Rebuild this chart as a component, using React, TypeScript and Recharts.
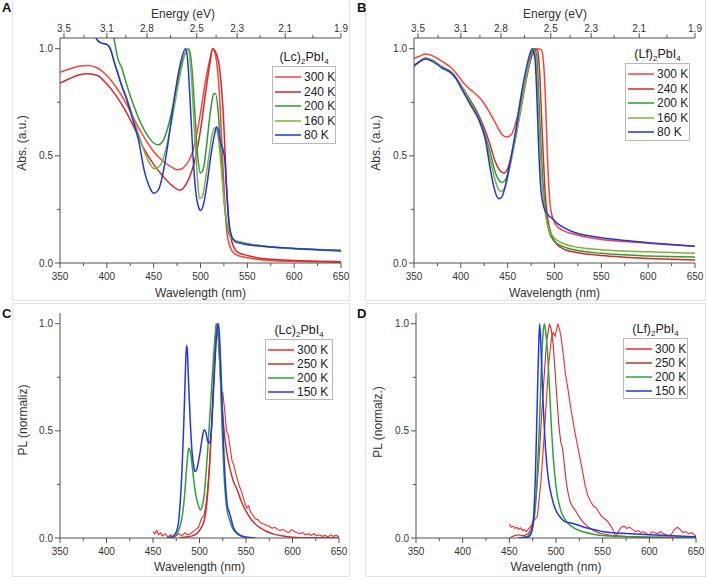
import React from 'react';
import { LineChart, Line, XAxis, YAxis, Legend } from 'recharts';

const FONT = '"Liberation Sans", Arial, Helvetica, sans-serif';
const AXIS = '#505050';
const TEXT = '#333';

// axis ticks
const wlTicks = [350, 375, 400, 425, 450, 475, 500, 525, 550, 575, 600, 625, 650];
const wlLabels = [350, 400, 450, 500, 550, 600, 650];
const yTicks = [0, 0.25, 0.5, 0.75, 1.0];
const yLabels = [0, 0.5, 1.0];
const energyLabels = [3.5, 3.1, 2.8, 2.5, 2.3, 2.1, 1.9];
const energyMinor = [3.3, 2.95, 2.65, 2.4, 2.2, 2.0];

// A: (Lc)2PbI4 absorption
const absLcWl300 = [350, 360, 370, 380, 390, 400, 410, 420, 430, 440, 450, 460, 470, 475, 480, 485, 490, 495, 500, 505, 510, 513, 516, 520, 524, 528, 532, 536, 540, 550, 560, 575, 600, 625, 650];
const absLc300 = [0.89, 0.905, 0.918, 0.922, 0.91, 0.875, 0.82, 0.75, 0.665, 0.585, 0.52, 0.475, 0.445, 0.435, 0.44, 0.46, 0.5, 0.58, 0.7, 0.84, 0.95, 1.0, 0.97, 0.8, 0.45, 0.15, 0.07, 0.045, 0.035, 0.025, 0.018, 0.012, 0.008, 0.006, 0.004];
const absLcWl240 = [350, 360, 370, 380, 390, 400, 410, 420, 430, 440, 450, 460, 470, 478, 485, 490, 495, 500, 505, 510, 513, 516, 520, 524, 528, 532, 536, 540, 550, 560, 575, 600, 625, 650];
const absLc240 = [0.84, 0.86, 0.877, 0.883, 0.875, 0.835, 0.78, 0.71, 0.625, 0.53, 0.46, 0.405, 0.36, 0.34, 0.37, 0.42, 0.5, 0.62, 0.78, 0.93, 1.0, 0.985, 0.92, 0.72, 0.35, 0.13, 0.07, 0.05, 0.035, 0.025, 0.018, 0.012, 0.008, 0.006];
const absLcWl200 = [405, 408, 412, 416, 420, 425, 430, 435, 440, 445, 450, 455, 460, 465, 470, 475, 480, 484, 487, 489, 491, 494, 497, 500, 503, 506, 509, 512, 514, 516, 519, 522, 525, 528, 531, 535, 540, 550, 575, 600, 625, 650];
const absLc200 = [1.12, 1.04, 0.95, 0.91, 0.85, 0.78, 0.72, 0.665, 0.62, 0.585, 0.56, 0.552, 0.57, 0.63, 0.72, 0.83, 0.93, 0.985, 1.0, 0.98, 0.9, 0.7, 0.5, 0.42, 0.44, 0.53, 0.65, 0.75, 0.79, 0.79, 0.7, 0.5, 0.3, 0.18, 0.13, 0.11, 0.1, 0.09, 0.075, 0.068, 0.063, 0.06];
const absLcWl160 = [385, 389, 394, 400, 404, 408, 412, 416, 421, 428, 434, 440, 445, 451, 457, 463, 470, 477, 483, 486, 488, 491, 494, 497, 499, 502, 505, 509, 512, 515, 518, 521, 524, 527, 530, 535, 540, 550, 575, 600, 625, 650];
const absLc160 = [1.09, 1.045, 1.027, 1.02, 1.0, 0.94, 0.885, 0.83, 0.775, 0.68, 0.6, 0.52, 0.47, 0.44, 0.455, 0.53, 0.68, 0.85, 0.97, 1.0, 0.98, 0.82, 0.58, 0.38, 0.3, 0.31, 0.38, 0.5, 0.59, 0.63, 0.61, 0.5, 0.35, 0.22, 0.15, 0.11, 0.1, 0.09, 0.075, 0.067, 0.062, 0.058];
const absLcWl80 = [385, 389, 394, 400, 404, 408, 412, 416, 421, 428, 434, 440, 445, 450, 455, 460, 466, 472, 478, 484, 486, 489, 492, 495, 498, 500, 503, 507, 511, 515, 517, 519, 521, 524, 526, 528, 530, 533, 537, 545, 560, 600, 650];
const absLc80 = [1.09, 1.045, 1.027, 1.02, 0.995, 0.935, 0.88, 0.825, 0.765, 0.665, 0.57, 0.43, 0.36, 0.326, 0.34, 0.42, 0.58, 0.77, 0.92, 1.0, 0.96, 0.75, 0.5, 0.33, 0.26, 0.245, 0.27, 0.37, 0.5, 0.6, 0.635, 0.62, 0.57, 0.53, 0.48, 0.33, 0.2, 0.13, 0.1, 0.09, 0.08, 0.068, 0.056];

// B: (Lf)2PbI4 absorption
const absLfWl300 = [350, 356, 362, 368, 375, 382, 390, 397, 403, 410, 417, 424, 431, 438, 444, 449, 454, 459, 464, 469, 474, 478, 482, 486, 488, 490, 492, 494, 496, 499, 503, 510, 520, 535, 550, 575, 600, 625, 650];
const absLf300 = [0.955, 0.965, 0.975, 0.97, 0.955, 0.935, 0.91, 0.875, 0.84, 0.81, 0.785, 0.75, 0.7, 0.645, 0.6, 0.588, 0.6, 0.66, 0.75, 0.85, 0.94, 0.985, 1.0, 0.995, 0.95, 0.8, 0.55, 0.35, 0.25, 0.2, 0.17, 0.15, 0.135, 0.12, 0.11, 0.1, 0.092, 0.085, 0.078];
const absLfWl240 = [350, 356, 362, 370, 380, 390, 400, 410, 418, 425, 431, 437, 442, 446, 450, 455, 460, 465, 470, 475, 479, 482, 484, 486, 488, 490, 493, 497, 502, 510, 525, 550, 575, 600, 625, 650];
const absLf240 = [0.92, 0.94, 0.955, 0.945, 0.915, 0.89, 0.83, 0.76, 0.7, 0.63, 0.555, 0.47, 0.43, 0.42, 0.44, 0.52, 0.62, 0.74, 0.86, 0.96, 1.0, 0.99, 0.9, 0.7, 0.5, 0.33, 0.2, 0.13, 0.09, 0.065, 0.048, 0.035, 0.027, 0.021, 0.017, 0.014];
const absLfWl200 = [350, 356, 362, 370, 380, 390, 400, 410, 418, 425, 431, 437, 441, 444, 448, 453, 458, 464, 470, 475, 478, 481, 483, 485, 487, 490, 494, 500, 510, 525, 550, 600, 650];
const absLf200 = [0.92, 0.94, 0.955, 0.945, 0.915, 0.89, 0.83, 0.755, 0.69, 0.61, 0.52, 0.42, 0.385, 0.376, 0.39, 0.47, 0.58, 0.73, 0.87, 0.97, 1.0, 0.97, 0.8, 0.6, 0.42, 0.26, 0.15, 0.1, 0.075, 0.058, 0.045, 0.033, 0.028];
const absLfWl160 = [350, 356, 362, 370, 380, 390, 400, 410, 418, 425, 431, 437, 440, 443, 447, 452, 458, 464, 470, 474, 477, 480, 482, 484, 486, 489, 493, 500, 510, 525, 550, 600, 650];
const absLf160 = [0.92, 0.94, 0.955, 0.945, 0.915, 0.89, 0.83, 0.75, 0.685, 0.6, 0.49, 0.38, 0.345, 0.334, 0.35, 0.44, 0.57, 0.72, 0.87, 0.96, 1.0, 0.96, 0.8, 0.6, 0.42, 0.27, 0.17, 0.115, 0.09, 0.073, 0.062, 0.052, 0.046];
const absLfWl80 = [350, 356, 362, 370, 380, 390, 395, 400, 410, 420, 426, 431, 435, 438, 441, 444, 448, 453, 459, 465, 470, 474, 476, 479, 481, 483, 485, 488, 492, 497, 503, 510, 520, 535, 550, 575, 600, 625, 650];
const absLf80 = [0.92, 0.94, 0.952, 0.94, 0.91, 0.885, 0.86, 0.82, 0.74, 0.66, 0.58, 0.45, 0.36, 0.315, 0.3, 0.31, 0.37, 0.48, 0.63, 0.8, 0.91, 0.98, 1.0, 0.96, 0.8, 0.55, 0.37, 0.27, 0.23, 0.21, 0.185, 0.165, 0.145, 0.128, 0.118, 0.105, 0.095, 0.086, 0.078];

// C: (Lc)2PbI4 PL
const plLcWl300 = [450, 452, 454, 456, 458, 460, 463, 466, 469, 472, 475, 478, 481, 484, 487, 490, 493, 496, 499, 502, 505, 507, 509, 511, 513, 515, 517, 518, 520, 522, 523.5, 525, 527, 529, 531, 533, 535, 537, 539, 541, 543, 545, 547, 549, 551, 553, 555, 557, 560, 563, 566, 569, 572, 575, 578, 581, 584, 587, 590, 593, 596, 599, 602, 605, 608, 611, 614, 617, 620, 623, 626, 629, 632, 635, 638, 641, 644, 647, 650];
const plLc300 = [0.03, 0.02, 0.035, 0.015, 0.025, 0.01, 0.02, 0.005, 0.015, 0.0, 0.01, 0.02, 0.01, 0.025, 0.015, 0.02, 0.03, 0.04, 0.05, 0.09, 0.11, 0.16, 0.24, 0.36, 0.52, 0.7, 0.9, 1.0, 0.96, 0.85, 0.66, 0.68, 0.6, 0.5, 0.48, 0.42, 0.36, 0.34, 0.3, 0.27, 0.24, 0.22, 0.19, 0.16, 0.14, 0.15, 0.12, 0.11, 0.09, 0.085, 0.07, 0.065, 0.06, 0.055, 0.045, 0.05, 0.04, 0.035, 0.04, 0.03, 0.025, 0.04, 0.03, 0.025, 0.02, 0.025, 0.015, 0.02, 0.012, 0.02, 0.01, 0.015, 0.008, 0.012, 0.005, 0.015, 0.008, 0.012, 0.006];
const plLcWl250 = [478, 485, 492, 498, 502, 505, 507, 509, 511, 513, 515, 517, 518, 520, 522, 524, 526, 528, 530, 533, 536, 540, 545, 550, 555, 560, 570, 580, 590, 600, 620, 650];
const plLc250 = [0, 0.005, 0.01, 0.025, 0.05, 0.08, 0.13, 0.22, 0.35, 0.52, 0.72, 0.92, 1.0, 0.95, 0.8, 0.63, 0.52, 0.44, 0.38, 0.32, 0.27, 0.23, 0.17, 0.125, 0.09, 0.065, 0.035, 0.018, 0.009, 0.004, 0.001, 0];
const plLcWl200 = [465, 472, 477, 481, 484, 486, 488, 489, 491, 493, 495, 497, 499, 501, 503, 505, 507, 509, 511, 513, 515, 517, 519, 520, 522, 524, 526, 528, 530, 532, 535, 538, 542, 548, 560];
const plLc200 = [0, 0.005, 0.03, 0.09, 0.2, 0.32, 0.41, 0.42, 0.38, 0.3, 0.23, 0.18, 0.15, 0.13, 0.15, 0.2, 0.3, 0.42, 0.56, 0.7, 0.84, 0.95, 1.0, 0.97, 0.8, 0.55, 0.33, 0.19, 0.12, 0.09, 0.05, 0.03, 0.015, 0.005, 0];
const plLcWl150 = [465, 470, 474, 477, 479, 481, 483, 485, 486, 487, 488, 490, 492, 494, 495, 497, 499, 501, 503, 505, 507, 509, 511, 513, 515, 517, 519, 520.5, 522, 524, 526, 528, 530, 532, 534, 536, 539, 543, 548, 560];
const plLc150 = [0, 0.005, 0.02, 0.06, 0.15, 0.3, 0.52, 0.8, 0.9, 0.87, 0.75, 0.55, 0.4, 0.33, 0.31, 0.32, 0.36, 0.41, 0.47, 0.505, 0.49, 0.45, 0.443, 0.52, 0.68, 0.85, 0.97, 1.0, 0.9, 0.68, 0.42, 0.25, 0.15, 0.12, 0.09, 0.055, 0.03, 0.015, 0.006, 0];

// D: (Lf)2PbI4 PL
const plLfWl300 = [450, 452, 454, 456, 458, 460, 462, 464, 466, 468, 470, 472, 474, 476, 480, 484, 488, 492, 495, 497, 499, 502, 504, 506, 508, 510, 513, 516, 520, 524, 528, 531, 534, 537, 540, 543, 546, 549, 552, 555, 558, 561, 564, 567, 570, 573, 576, 579, 582, 585, 588, 591, 594, 597, 600, 603, 606, 609, 612, 615, 618, 621, 624, 627, 630, 633, 636, 639, 642, 645, 648, 650];
const plLf300 = [0.065, 0.05, 0.055, 0.045, 0.05, 0.04, 0.048, 0.035, 0.04, 0.03, 0.04, 0.05, 0.06, 0.08, 0.1, 0.27, 0.52, 0.8, 0.93, 0.96, 0.94, 1.0, 0.97, 0.92, 0.85, 0.77, 0.69, 0.6, 0.5, 0.41, 0.32, 0.25, 0.2, 0.17, 0.15, 0.14, 0.12, 0.1, 0.09, 0.08, 0.06, 0.04, 0.005, 0.03, 0.05, 0.055, 0.045, 0.05, 0.04, 0.03, 0.035, 0.025, 0.03, 0.02, 0.015, 0.03, 0.025, 0.02, 0.03, 0.02, 0.015, 0.01, 0.02, 0.04, 0.05, 0.04, 0.025, 0.03, 0.02, 0.025, 0.015, 0.01];
const plLfWl250 = [450, 455, 460, 465, 470, 473, 476, 479, 482, 485, 488, 490, 493, 495, 497, 499, 501, 503, 505, 507, 509, 511, 513, 515, 518, 522, 526, 530, 535, 540, 545, 550, 560, 575, 600, 650];
const plLf250 = [0, 0.01, 0.015, 0.01, 0.02, 0.04, 0.09, 0.2, 0.38, 0.6, 0.8, 0.92, 1.0, 0.97, 0.9, 0.78, 0.65, 0.53, 0.45, 0.42, 0.34, 0.26, 0.21, 0.17, 0.145, 0.12, 0.09, 0.07, 0.05, 0.035, 0.025, 0.02, 0.012, 0.008, 0.005, 0.003];
const plLfWl200 = [460, 468, 472, 475, 478, 480, 482, 484, 486, 487.5, 489, 491, 493, 495, 497, 500, 505, 510, 515, 520, 525, 530, 540, 550, 575, 600, 650];
const plLf200 = [0, 0.005, 0.02, 0.05, 0.15, 0.3, 0.5, 0.75, 0.95, 1.0, 0.96, 0.86, 0.7, 0.52, 0.38, 0.24, 0.13, 0.085, 0.06, 0.045, 0.035, 0.028, 0.018, 0.012, 0.006, 0.003, 0.001];
const plLfWl150 = [460, 468, 472, 474, 476, 478, 480, 481.5, 482.5, 484, 486, 488, 490, 492, 495, 498, 501, 504, 507, 510, 513, 516, 520, 525, 530, 535, 540, 545, 550, 560, 570, 580, 600, 625, 650];
const plLf150 = [0, 0.003, 0.01, 0.03, 0.1, 0.3, 0.65, 0.9, 1.0, 0.88, 0.65, 0.47, 0.35, 0.27, 0.2, 0.15, 0.12, 0.1, 0.085, 0.075, 0.072, 0.07, 0.065, 0.058, 0.05, 0.045, 0.04, 0.035, 0.03, 0.025, 0.022, 0.02, 0.015, 0.01, 0.006];

const zip = (wl: number[], v: number[]) => wl.map((w, i) => ({ wl: w, v: v[i] }));
const toNm = (e: number) => Math.min(650, 1240 / e);
const energyTicks = [...energyLabels, ...energyMinor].map(toNm).sort((a, b) => a - b);

type Series = { name: string; color: string; data: { wl: number; v: number }[]; noisy?: boolean };

const absLcSeries: Series[] = [
  { name: '300 K', color: '#f2453e', data: zip(absLcWl300, absLc300) },
  { name: '240 K', color: '#d8262a', data: zip(absLcWl240, absLc240) },
  { name: '200 K', color: '#2f9a35', data: zip(absLcWl200, absLc200) },
  { name: '160 K', color: '#7fb23a', data: zip(absLcWl160, absLc160) },
  { name: '80 K', color: '#2233dd', data: zip(absLcWl80, absLc80) },
];
const absLfSeries: Series[] = [
  { name: '300 K', color: '#f2453e', data: zip(absLfWl300, absLf300) },
  { name: '240 K', color: '#d8262a', data: zip(absLfWl240, absLf240) },
  { name: '200 K', color: '#2f9a35', data: zip(absLfWl200, absLf200) },
  { name: '160 K', color: '#7fb23a', data: zip(absLfWl160, absLf160) },
  { name: '80 K', color: '#2233dd', data: zip(absLfWl80, absLf80) },
];
const plLcSeries: Series[] = [
  { name: '300 K', color: '#ef2b2b', data: zip(plLcWl300, plLc300), noisy: true },
  { name: '250 K', color: '#c8322e', data: zip(plLcWl250, plLc250) },
  { name: '200 K', color: '#2fa03a', data: zip(plLcWl200, plLc200) },
  { name: '150 K', color: '#2535e6', data: zip(plLcWl150, plLc150) },
];
const plLfSeries: Series[] = [
  { name: '300 K', color: '#ef2b2b', data: zip(plLfWl300, plLf300), noisy: true },
  { name: '250 K', color: '#c0302c', data: zip(plLfWl250, plLf250), noisy: true },
  { name: '200 K', color: '#2fa03a', data: zip(plLfWl200, plLf200) },
  { name: '150 K', color: '#2535e6', data: zip(plLfWl150, plLf150) },
];

const BottomTick = (p: any) => {
  const { x, y, payload } = p;
  const major = wlLabels.includes(payload.value);
  return (
    <g>
      <line x1={x} x2={x} y1={y} y2={y + (major ? 5 : 3)} stroke={AXIS} />
      {major && (
        <text x={x} y={y + 17} textAnchor="middle" fontSize={10} fill={TEXT} fontFamily={FONT}>
          {payload.value}
        </text>
      )}
    </g>
  );
};

const TopTick = (p: any) => {
  const { x, y, payload } = p;
  const label = energyLabels.find((e) => Math.abs(toNm(e) - payload.value) < 0.01);
  return (
    <g>
      <line x1={x} x2={x} y1={y} y2={y - (label ? 5 : 3)} stroke={AXIS} />
      {label !== undefined && (
        <text x={x} y={y - 6} textAnchor="middle" fontSize={10} fill={TEXT} fontFamily={FONT}>
          {label.toFixed(1)}
        </text>
      )}
    </g>
  );
};

const LeftTick = (p: any) => {
  const { x, y, payload } = p;
  const major = yLabels.includes(payload.value);
  return (
    <g>
      <line x1={x} x2={x - (major ? 5 : 3)} y1={y} y2={y} stroke={AXIS} />
      {major && (
        <text x={x - 7} y={y + 3.5} textAnchor="end" fontSize={10} fill={TEXT} fontFamily={FONT}>
          {payload.value.toFixed(1)}
        </text>
      )}
    </g>
  );
};

type PanelCfg = {
  letter: string; left: number; top: number; height: number;
  plotLeft: number; plotRight: number; plotTop: number; plotBottom: number;
  energy: boolean; energyX: number; xLabelY: number;
  yLabel: string; yLabelX: number; yLabelY: number;
  prefix: string; series: Series[];
  legend: { left: number; top: number; width: number; rowH: number };
};

const panels: PanelCfg[] = [
  { letter: 'A', left: 0, top: 0, height: 301, plotLeft: 60, plotRight: 341, plotTop: 38, plotBottom: 263, energy: true, energyX: 183, xLabelY: 297, yLabel: 'Abs. (a.u.)', yLabelX: 26, yLabelY: 143, prefix: '(Lc)', series: absLcSeries, legend: { left: 272, top: 66, width: 64, rowH: 14.5 } },
  { letter: 'B', left: 354, top: 0, height: 301, plotLeft: 60, plotRight: 341, plotTop: 38, plotBottom: 263, energy: true, energyX: 201, xLabelY: 297, yLabel: 'Abs. (a.u.)', yLabelX: 26, yLabelY: 143, prefix: '(Lf)', series: absLfSeries, legend: { left: 271, top: 63, width: 65, rowH: 14.5 } },
  { letter: 'C', left: 0, top: 290, height: 291, plotLeft: 60, plotRight: 339, plotTop: 23, plotBottom: 248, energy: false, energyX: 0, xLabelY: 281, yLabel: 'PL (normaliz)', yLabelX: 27, yLabelY: 130, prefix: '(Lc)', series: plLcSeries, legend: { left: 265, top: 49, width: 68, rowH: 14 } },
  { letter: 'D', left: 354, top: 290, height: 291, plotLeft: 62, plotRight: 342, plotTop: 23, plotBottom: 248, energy: false, energyX: 0, xLabelY: 281, yLabel: 'PL (normalz.)', yLabelX: 28, yLabelY: 132, prefix: '(Lf)', series: plLfSeries, legend: { left: 269, top: 48, width: 65, rowH: 14 } },
];

const Sub = ({ children }: { children: React.ReactNode }) => (
  <span style={{ fontSize: 8, position: 'relative', top: 3 }}>{children}</span>
);

const Panel = ({ cfg }: { cfg: PanelCfg }) => {
  const midX = (cfg.plotLeft + cfg.plotRight) / 2;
  const lg = cfg.legend;
  const order = cfg.series.map((s) => s.name);
  const renderLegend = (props: any) => {
    const items = [...(props.payload || [])].sort((a: any, b: any) => order.indexOf(a.value) - order.indexOf(b.value));
    return (
      <div style={{ position: 'relative', fontFamily: FONT, color: '#222' }}>
        <div style={{ position: 'absolute', left: 0, width: lg.width, top: -17, textAlign: 'center', fontSize: 12.5, lineHeight: '16px', whiteSpace: 'nowrap' }}>
          {cfg.prefix}<Sub>2</Sub>PbI<Sub>4</Sub>
        </div>
        <div style={{ width: lg.width, boxSizing: 'border-box', border: '1px solid #b8b8b8', background: '#fff', padding: '3px 0 0 0' }}>
          {items.map((item: any) => (
            <div key={item.value} style={{ display: 'flex', alignItems: 'center', height: lg.rowH, fontSize: 12, whiteSpace: 'nowrap' }}>
              <svg width={26} height={4} style={{ marginLeft: 2, marginRight: 3, flex: 'none' }}>
                <line x1={0} x2={26} y1={2} y2={2} stroke={item.color} strokeWidth={1.5} />
              </svg>
              <span style={{ lineHeight: '12px' }}>{item.value}</span>
            </div>
          ))}
        </div>
      </div>
    );
  };
  return (
    <div style={{ position: 'absolute', left: cfg.left, top: cfg.top }}>
      <LineChart
        width={354}
        height={cfg.height}
        margin={{ top: cfg.energy ? 0 : cfg.plotTop, right: 354 - cfg.plotRight, bottom: 0, left: 0 }}
      >
        <XAxis
          xAxisId="b"
          dataKey="wl"
          type="number"
          domain={[350, 650]}
          ticks={wlTicks}
          interval={0}
          tick={<BottomTick />}
          tickLine={false}
          tickSize={0}
          tickMargin={0}
          height={cfg.height - cfg.plotBottom}
          stroke={AXIS}
          allowDataOverflow
          label={{
            content: () => (
              <text x={midX} y={cfg.xLabelY} textAnchor="middle" fontSize={12} fill={TEXT} fontFamily={FONT}>
                Wavelength (nm)
              </text>
            ),
          }}
        />
        <XAxis
          xAxisId="t"
          orientation="top"
          dataKey="wl"
          type="number"
          domain={[350, 650]}
          ticks={cfg.energy ? energyTicks : []}
          interval={0}
          tick={cfg.energy ? <TopTick /> : false}
          tickLine={false}
          tickSize={0}
          tickMargin={0}
          height={cfg.energy ? cfg.plotTop : 0}
          stroke={AXIS}
          allowDataOverflow
          label={
            cfg.energy
              ? {
                  content: () => (
                    <text x={cfg.energyX} y={18} textAnchor="middle" fontSize={12} fill={TEXT} fontFamily={FONT}>
                      Energy (eV)
                    </text>
                  ),
                }
              : undefined
          }
        />
        <YAxis
          yAxisId="l"
          type="number"
          domain={[0, 1.05]}
          ticks={yTicks}
          interval={0}
          tick={<LeftTick />}
          tickLine={false}
          tickSize={0}
          tickMargin={0}
          width={cfg.plotLeft}
          stroke={AXIS}
          allowDataOverflow
          label={{
            content: () => (
              <text
                x={cfg.yLabelX}
                y={cfg.yLabelY}
                transform={`rotate(-90 ${cfg.yLabelX} ${cfg.yLabelY})`}
                textAnchor="middle"
                fontSize={12}
                fill={TEXT}
                fontFamily={FONT}
              >
                {cfg.yLabel}
              </text>
            ),
          }}
        />
        <YAxis yAxisId="r" orientation="right" type="number" domain={[0, 1.05]} tick={false} tickLine={false} width={0} stroke={AXIS} />
        {cfg.series.map((s) => (
          <Line
            key={s.name}
            xAxisId="b"
            yAxisId="l"
            data={s.data}
            dataKey="v"
            name={s.name}
            stroke={s.color}
            strokeWidth={s.noisy ? 1.1 : 1.5}
            dot={false}
            type={s.noisy ? 'linear' : 'monotone'}
            isAnimationActive={false}
          />
        ))}
        <Legend
          layout="vertical"
          align="center"
          verticalAlign="middle"
          content={renderLegend}
          wrapperStyle={{ position: 'absolute', left: lg.left, top: lg.top, width: lg.width, height: 'auto' }}
        />
      </LineChart>
    </div>
  );
};

const cardStyle = (left: number, top: number, width: number, height: number, noTop = false): React.CSSProperties => ({
  position: 'absolute',
  left,
  top,
  width,
  height,
  boxSizing: 'border-box',
  border: '1px solid #e2e2e2',
  borderTop: noTop ? 'none' : '1px solid #e2e2e2',
});

const letterStyle = (left: number, top: number): React.CSSProperties => ({
  position: 'absolute',
  left,
  top,
  fontFamily: FONT,
  fontWeight: 'bold',
  fontSize: 13,
  lineHeight: '13px',
  color: '#111',
});

export default function App() {
  return (
    <div style={{ position: 'absolute', left: 0, top: 0, width: 708, height: 581, background: '#fff', overflow: 'hidden' }}>
      <div style={cardStyle(12, 0, 338, 301, true)} />
      <div style={cardStyle(365, 0, 341, 301, true)} />
      <div style={cardStyle(12, 303, 338, 274)} />
      <div style={cardStyle(365, 303, 341, 274)} />
      <div style={letterStyle(2, 1)}>A</div>
      <div style={letterStyle(357, 1)}>B</div>
      <div style={letterStyle(2, 307)}>C</div>
      <div style={letterStyle(357, 307)}>D</div>
      {panels.map((p) => (
        <Panel key={p.letter} cfg={p} />
      ))}
    </div>
  );
}
